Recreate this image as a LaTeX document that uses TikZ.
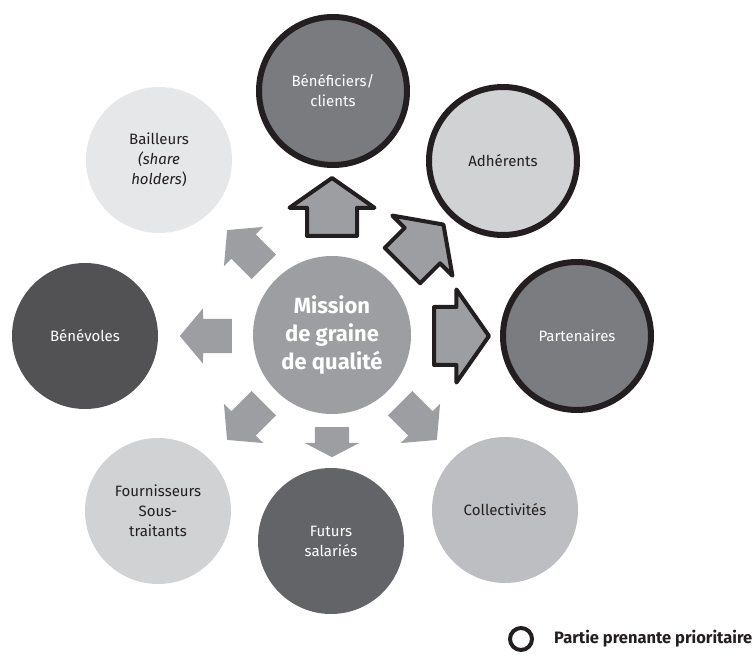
\documentclass[tikz,border=0pt]{standalone}
\usepackage{fontspec}
\setmainfont{Fira Sans}
\usetikzlibrary{shapes.arrows,positioning}

\definecolor{ink}{HTML}{231F20}
\definecolor{missiongrey}{HTML}{9D9EA1}
\definecolor{benefgrey}{HTML}{7A7B7F}
\definecolor{adhergrey}{HTML}{D1D2D4}
\definecolor{partengrey}{HTML}{7B7C80}
\definecolor{collecgrey}{HTML}{BDBEC1}
\definecolor{futursgrey}{HTML}{636467}
\definecolor{fourngrey}{HTML}{D1D2D4}
\definecolor{benevgrey}{HTML}{525254}
\definecolor{bailgrey}{HTML}{E6E7E8}

\tikzset{
  party/.style={circle, minimum size=146pt, inner sep=0pt, align=center,
    text=ink, font=\fontsize{15}{20}\selectfont},
  prio/.style={draw=ink, line width=6pt, minimum size=148pt},
  push/.style={single arrow, anchor=tail, fill=missiongrey, inner xsep=0pt, inner ysep=17pt,
    minimum height=52pt, single arrow head extend=10.5pt,
    single arrow tip angle=100},
  bigpush/.style={push, draw=ink, line width=4pt, line join=round, inner ysep=23pt,
    minimum height=58pt, single arrow head extend=17.5pt,
    single arrow tip angle=110},
}

\begin{document}
\begin{tikzpicture}[x=1pt,y=-1pt]
\useasboundingbox (0,0) rectangle (756,655);

\node [party, fill=missiongrey, minimum size=158pt, text=white,
  font=\bfseries\fontsize{22}{28}\selectfont] (mission) at (332,335) {Mission\\de graine\\de qualité};

\node [party, prio, fill=benefgrey, text=white] (benef) at (333,91) {Bénéficiers/\\clients};
\node [party, prio, fill=adhergrey] (adher) at (503,161) {Adhérents};
\node [party, prio, fill=partengrey, text=white] (parten) at (577,336) {Partenaires};
\node [party, fill=collecgrey] (collec) at (505,510) {Collectivités};
\node [party, fill=futursgrey, text=white] (futurs) at (331,541) {Futurs\\salariés};
\node [party, fill=fourngrey] (fourn) at (158,511) {Fournisseurs\\Sous-\\traitants};
\node [party, fill=benevgrey, text=white] (benev) at (85,336) {Bénévoles};
\node [party, fill=bailgrey] (bail) at (159,160) {Bailleurs\\\textit{(share}\\\textit{holders})};

% priority arrows, with border (placed by their tail)
\node [bigpush, rotate=90] (toBenef) at (332,238) {};
\node [bigpush, rotate=45] (toAdher) at (401,267) {};
\node [bigpush, minimum height=55pt, inner ysep=27pt] (toParten) at (432,336) {};

% other arrows
\node [push, rotate=-45] (toCollec) at (400,403) {};
\node [push, rotate=-90, minimum height=30pt, single arrow tip angle=125] (toFuturs) at (332,427) {};
\node [push, rotate=-135] (toFourn) at (264,403) {};
\node [push, rotate=180] (toBenev) at (232,336) {};
\node [push, rotate=135] (toBail) at (264,267) {};

% legend
\node [circle, draw=ink, line width=4pt, minimum size=22pt, inner sep=0pt] (legend) at (521,639) {};
\node [right=20pt of legend, inner sep=0pt, text=ink,
  font=\bfseries\fontsize{16.5}{18}\selectfont] (legendtext) {Partie prenante prioritaire};
\end{tikzpicture}
\end{document}
